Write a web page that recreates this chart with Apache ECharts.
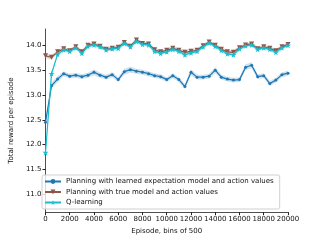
<!DOCTYPE html>
<html><head><meta charset="utf-8">
<script src="https://cdn.jsdelivr.net/npm/echarts@6/dist/echarts.min.js"></script>
<style>html,body{margin:0;padding:0;background:#fff}#c{width:320px;height:240px}</style>
</head><body><div id="c"></div>
<script>
const episodes = [0,500,1000,1500,2000,2500,3000,3500,4000,4500,5000,5500,6000,6500,7000,7500,8000,8500,9000,9500,10000,10500,11000,11500,12000,12500,13000,13500,14000,14500,15000,15500,16000,16500,17000,17500,18000,18500,19000,19500,20000];
const learnedModel = [12.45,13.19,13.32,13.43,13.38,13.40,13.37,13.40,13.46,13.40,13.36,13.41,13.31,13.47,13.51,13.48,13.46,13.43,13.39,13.37,13.31,13.39,13.31,13.17,13.46,13.36,13.36,13.38,13.50,13.36,13.32,13.30,13.31,13.56,13.60,13.37,13.39,13.23,13.30,13.41,13.44];
const learnedErr = [0.07,0.06,0.06,0.05,0.05,0.05,0.05,0.05,0.06,0.05,0.05,0.05,0.05,0.06,0.06,0.05,0.05,0.05,0.05,0.05,0.05,0.05,0.05,0.05,0.06,0.05,0.05,0.05,0.06,0.05,0.05,0.05,0.05,0.06,0.06,0.05,0.05,0.05,0.05,0.05,0.05];
const trueModel = [13.79,13.76,13.87,13.93,13.89,13.97,13.87,14.00,14.03,13.98,13.92,13.94,13.96,14.06,13.98,14.11,14.04,14.03,13.91,13.87,13.90,13.94,13.90,13.86,13.88,13.90,13.99,14.07,14.00,13.92,13.87,13.86,13.95,14.01,14.03,13.93,13.97,13.94,13.89,13.97,14.02];
const trueErr = [0.05,0.05,0.04,0.04,0.04,0.04,0.04,0.04,0.04,0.04,0.04,0.04,0.04,0.04,0.04,0.04,0.04,0.04,0.04,0.04,0.04,0.04,0.04,0.05,0.04,0.04,0.04,0.04,0.04,0.04,0.04,0.04,0.04,0.04,0.04,0.04,0.04,0.04,0.04,0.04,0.04];
const qLearning = [11.84,13.43,13.82,13.91,13.88,13.95,13.84,13.98,14.01,13.97,13.91,13.93,13.94,14.04,13.97,14.08,14.02,14.01,13.88,13.84,13.87,13.92,13.88,13.81,13.85,13.88,13.97,14.05,13.98,13.90,13.83,13.81,13.93,13.99,14.01,13.92,13.95,13.92,13.86,13.95,14.00];
const qErr = [0.06,0.05,0.04,0.04,0.04,0.04,0.04,0.04,0.04,0.04,0.04,0.04,0.04,0.04,0.04,0.04,0.04,0.04,0.04,0.04,0.04,0.04,0.04,0.05,0.04,0.04,0.04,0.04,0.04,0.04,0.04,0.04,0.04,0.04,0.04,0.04,0.04,0.04,0.04,0.04,0.04];
const yTicks = [11.0,11.5,12.0,12.5,13.0,13.5,14.0];
const names = ['Planning with learned expectation model and action values','Planning with true model and action values','Q-learning'];
const colors = ['#1f77b4','#8c564b','#17becf'];
const star = 'path://M50,0 L61,35 L98,35 L68,57 L79,91 L50,70 L21,91 L32,57 L2,35 L39,35 Z';
const triDown = 'path://M0,0 L100,0 L50,90 Z';

function pairs(arr){ return episodes.map((x,i)=>[x,arr[i]]); }
function bandSeries(vals, errs, color){
  return {
    type:'custom', silent:true, z:1,
    data: episodes.map((x,i)=>[x, vals[i]-errs[i], vals[i]+errs[i]]),
    encode:{x:0, y:[1,2]},
    renderItem:function(params, api){
      if (params.dataIndex !== 0) return null;
      const upper = [], lower = [];
      for (let i=0;i<episodes.length;i++){
        upper.push(api.coord([episodes[i], vals[i]+errs[i]]));
        lower.push(api.coord([episodes[i], vals[i]-errs[i]]));
      }
      const pts = upper.concat(lower.reverse());
      return {type:'polygon', shape:{points:pts}, style:{fill:color, opacity:0.22}};
    }
  };
}
const series = [];
const sets = [[learnedModel,learnedErr],[trueModel,trueErr],[qLearning,qErr]];
const symbols = [['circle',3],[triDown,5],[star,6]];
sets.forEach((s,k)=>{ series.push(bandSeries(s[0], s[1], colors[k])); });
sets.forEach((s,k)=>{
  series.push({type:'line', name:names[k], data:pairs(s[0]), color:colors[k],
    symbol:symbols[k][0], symbolSize:symbols[k][1], showSymbol:true,
    lineStyle:{width:1.2, color:colors[k]}, itemStyle:{color:colors[k]}, z:3+k});
});

const chart = echarts.init(document.getElementById('c'), null, {renderer:'canvas'});
chart.setOption({
  animation:false,
  grid:{left:40, right:32, top:29, bottom:26, containLabel:false},
  legend:{data:names, orient:'vertical', left:42, top:175, itemWidth:16, itemHeight:6, itemGap:3.5,
    padding:[3,6,3,2], backgroundColor:'rgba(255,255,255,0.8)', borderColor:'#d0d0d0', borderWidth:1, borderRadius:2,
    textStyle:{fontSize:7, fontFamily:'DejaVu Sans', color:'#111'}},
  xAxis:{type:'value', min:0, max:20000, interval:2000, name:'Episode, bins of 500', nameLocation:'middle', nameGap:14,
    nameTextStyle:{fontSize:7, fontFamily:'DejaVu Sans', color:'#111'},
    axisLine:{lineStyle:{color:'#222', width:0.8}}, axisTick:{length:3, lineStyle:{color:'#222'}},
    axisLabel:{fontSize:7, fontFamily:'DejaVu Sans', color:'#111', margin:4, formatter:v=>String(v)}, splitLine:{show:false}},
  yAxis:{type:'value', min:10.64, max:14.33, name:'Total reward per episode', nameLocation:'middle', nameGap:26,
    nameTextStyle:{fontSize:7, fontFamily:'DejaVu Sans', color:'#111'},
    axisLine:{show:true, lineStyle:{color:'#222', width:0.8}},
    axisTick:{show:true, length:3, customValues:yTicks, lineStyle:{color:'#222'}},
    axisLabel:{fontSize:7, fontFamily:'DejaVu Sans', color:'#111', margin:4, customValues:yTicks, formatter:v=>v.toFixed(1)},
    splitLine:{show:false}},
  series: series
});
</script></body></html>
